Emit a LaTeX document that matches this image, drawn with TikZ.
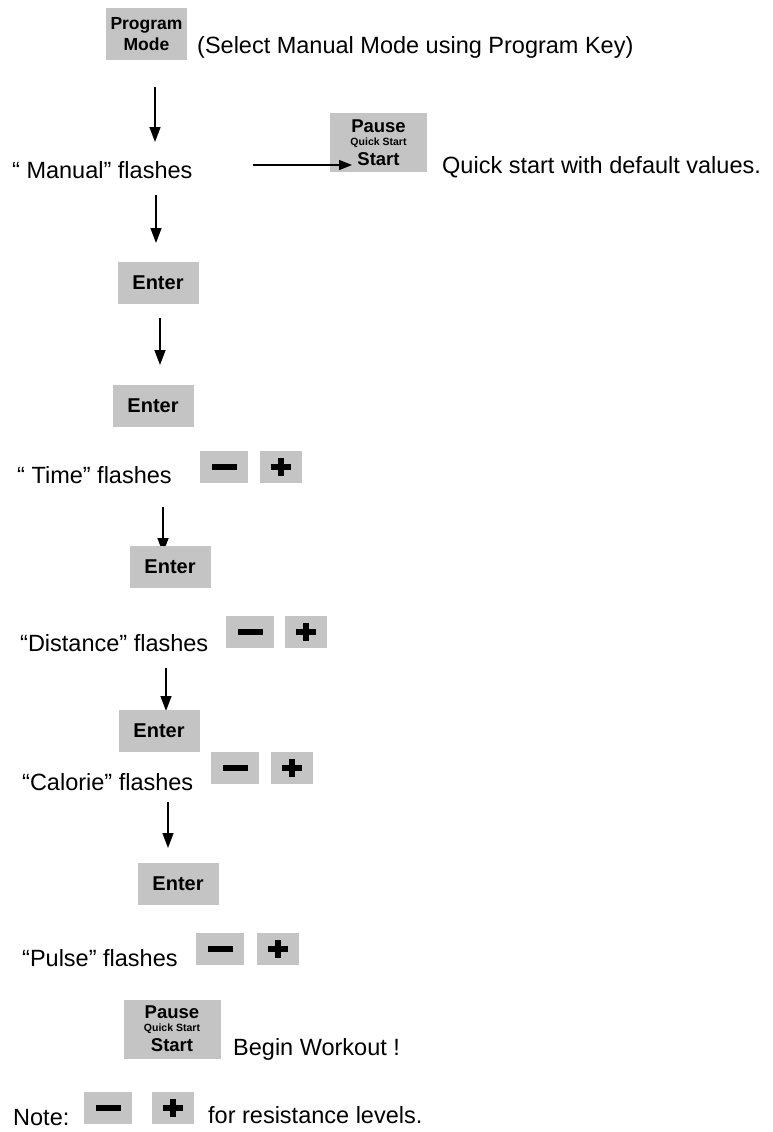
\documentclass[tikz,border=0pt]{standalone}
\usepackage{fontspec}
\setmainfont{Liberation Sans}
\usetikzlibrary{arrows.meta}
\definecolor{keygray}{RGB}{196,196,196}
\begin{document}
\begin{tikzpicture}[x=1pt,y=-1pt,
  txt/.style={anchor=base west, inner sep=0pt, font=\fontsize{23.5}{28}\selectfont},
  key/.style={fill=keygray, inner sep=0pt, align=center, font=\bfseries\fontsize{20}{22}\selectfont},
  enterkey/.style={key, minimum width=81pt, minimum height=42pt},
  pausekey/.style={key, minimum width=97pt, minimum height=59pt, font=\bfseries\fontsize{18.5}{16}\selectfont},
  minuskey/.style={key, minimum height=32pt, minimum width=48pt,
    path picture={\fill[black] ([xshift=-12.5pt,yshift=-2.7pt]path picture bounding box.center) rectangle ([xshift=12.5pt,yshift=2.7pt]path picture bounding box.center);}},
  pluskey/.style={key, minimum height=32pt, minimum width=42pt,
    path picture={\fill[black] ([xshift=-10pt,yshift=-2.6pt]path picture bounding box.center) rectangle ([xshift=10pt,yshift=2.6pt]path picture bounding box.center);
                  \fill[black] ([xshift=-2.6pt,yshift=-9pt]path picture bounding box.center) rectangle ([xshift=2.6pt,yshift=9pt]path picture bounding box.center);}},
  arr/.style={line width=1.4pt, -{Triangle[length=15pt,width=11pt]}},
  harr/.style={line width=1.2pt, -{Triangle[length=13pt,width=10pt]}}
]
\useasboundingbox (0,0) rectangle (772,1132);

% top
\node[key, minimum width=81pt, minimum height=52pt, font=\bfseries\fontsize{17.5}{21}\selectfont] (pm) at (146.5,34) {Program\\Mode};
\node[txt] (sel) at (197,53) {(Select Manual Mode using Program Key)};

\coordinate (a1s) at (155,87);
\coordinate (a1e) at (155,142);
\draw[arr] (a1s) -- (a1e);

\node[txt] (man) at (12,178) {“ Manual” flashes};
\node[pausekey] (pk1) at (378.5,142.5) {Pause\\[-3pt]{\fontsize{10.5}{12}\selectfont Quick Start}\\[4pt]Start};
\node[txt] (qs) at (442,173) {Quick start with default values.};
\coordinate (h0) at (253,165);
\coordinate (h1) at (352,165);
\draw[harr] (h0) -- (h1);

\coordinate (a2s) at (156,195);
\coordinate (a2e) at (156,243);
\draw[arr] (a2s) -- (a2e);

\node[enterkey] (en1) at (158,283) {Enter};

\coordinate (a3s) at (160,318);
\coordinate (a3e) at (160,365);
\draw[arr] (a3s) -- (a3e);

\node[enterkey] (en2) at (153,406) {Enter};

\node[txt] (time) at (17,483) {“ Time” flashes};
\node[minuskey] (m1) at (224,467) {};
\node[pluskey] (p1) at (281,467) {};

\coordinate (a4s) at (163,507);
\coordinate (a4e) at (163,553);
\draw[arr] (a4s) -- (a4e);

\node[enterkey] (en3) at (170,567) {Enter};

\node[txt] (dist) at (20,651) {“Distance” flashes};
\node[minuskey] (m2) at (250,632) {};
\node[pluskey] (p2) at (306,632) {};

\coordinate (a5s) at (166,668);
\coordinate (a5e) at (166,711);
\draw[arr] (a5s) -- (a5e);

\node[enterkey] (en4) at (159,731) {Enter};

\node[txt] (cal) at (22,790) {“Calorie” flashes};
\node[minuskey] (m3) at (235,768) {};
\node[pluskey] (p3) at (292,768) {};

\coordinate (a6s) at (168,802);
\coordinate (a6e) at (168,848);
\draw[arr] (a6s) -- (a6e);

\node[enterkey] (en5) at (178,884) {Enter};

\node[txt] (pulse) at (22,966) {“Pulse” flashes};
\node[minuskey] (m4) at (220,949) {};
\node[pluskey] (p4) at (278,949) {};

\node[pausekey] (pk2) at (172,1029) {Pause\\[-3pt]{\fontsize{10.5}{12}\selectfont Quick Start}\\[4pt]Start};
\node[txt] (bw) at (233,1055) {Begin Workout !};

\node[txt] (note) at (13,1125) {Note:};
\node[minuskey] (m5) at (108,1108) {};
\node[pluskey] (p5) at (173,1108) {};
\node[txt] (res) at (208,1123) {for resistance levels.};
\end{tikzpicture}
\end{document}
